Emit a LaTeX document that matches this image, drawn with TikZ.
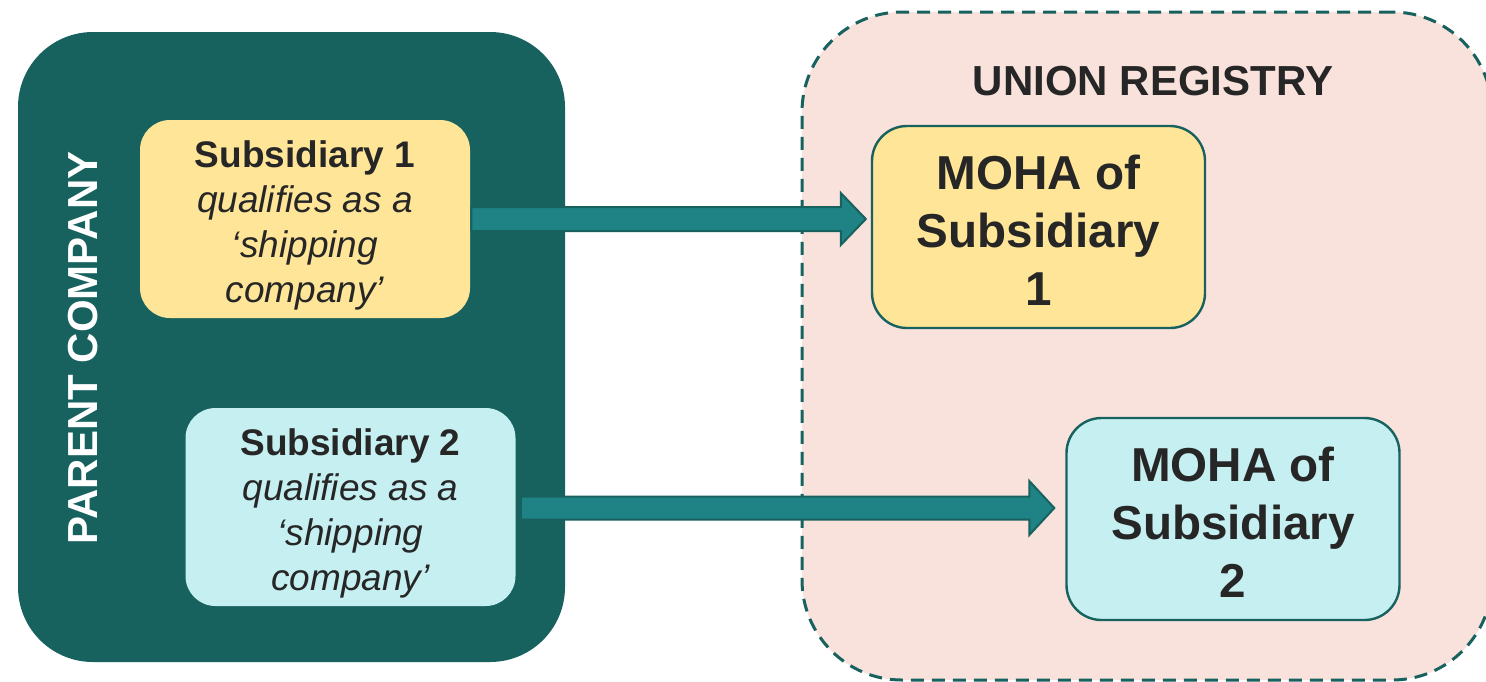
\documentclass[tikz,border=0pt]{standalone}
\usepackage{fontspec}
\setmainfont{Liberation Sans}
\usetikzlibrary{calc}
\definecolor{tealdark}{HTML}{17625F}
\definecolor{arrowteal}{HTML}{1F8285}
\definecolor{subyellow}{HTML}{FFE597}
\definecolor{subcyan}{HTML}{C5EFF1}
\definecolor{regpink}{HTML}{F9E1DC}
\definecolor{txt}{HTML}{262626}
\tikzset{
  subbox/.style={rectangle, rounded corners=15pt, minimum width=165pt, minimum height=99pt,
    inner sep=0pt},
  subtext/.style={inner sep=0pt, align=center, text=txt, font=\fontsize{18.5}{22.5}\selectfont\itshape},
  mohabox/.style={rectangle, rounded corners=17.5pt, draw=tealdark, line width=1.2pt,
    minimum width=166.5pt, minimum height=101pt, inner sep=0pt},
  mohatext/.style={inner sep=0pt, align=center, text=txt,
    font=\fontsize{23.8}{29}\selectfont\bfseries},
  bigarrow/.style={fill=arrowteal, draw=tealdark, line width=1pt, line join=miter},
  biglabel/.style={font=\fontsize{21}{25}\selectfont\bfseries, inner sep=0pt}
}
\begin{document}
\begin{tikzpicture}[x=0.5pt,y=-0.5pt]
\useasboundingbox (0,0) rectangle (1486,681);
\clip (0,0) rectangle (1486,681);
% union registry
\node[rectangle, rounded corners=50pt, fill=regpink, draw=tealdark, line width=1.5pt,
  dash pattern=on 6.5pt off 4pt, minimum width=345pt, minimum height=334pt, inner sep=0pt]
  (reg) at (1147,346) {};
\node[biglabel, text=txt] (reglabel) at (1153,81) {UNION REGISTRY};
% parent company
\node[rectangle, rounded corners=37.5pt, fill=tealdark, minimum width=273.5pt,
  minimum height=315pt, inner sep=0pt] (parent) at (291.5,347) {};
\node[biglabel, text=white, rotate=90] (parentlabel) at (83,348) {PARENT COMPANY};
% subsidiaries
\node[subbox, fill=subyellow] (s1) at (305,219) {};
\node[subtext] (s1t) at ($(s1.center)+(0,6)$)
  {{\upshape\bfseries Subsidiary 1}\\qualifies as a\\‘shipping\\company’};
\node[subbox, fill=subcyan] (s2) at (350.5,507) {};
\node[subtext] (s2t) at ($(s2.center)+(0,6)$)
  {{\upshape\bfseries Subsidiary 2}\\qualifies as a\\‘shipping\\company’};
% MOHA boxes
\node[mohabox, fill=subyellow] (m1) at (1038.5,227) {};
\node[mohatext] (m1t) at ($(m1.center)+(0,3)$) {MOHA of\\Subsidiary\\1};
\node[mohabox, fill=subcyan] (m2) at (1233,519) {};
\node[mohatext] (m2t) at ($(m2.center)+(0,3)$) {MOHA of\\Subsidiary\\2};
% arrows
\coordinate (t1) at ($(m1.west |- s1.east)+(-5,0)$);
\coordinate (a1) at ($(s1.east)+(1,0)$);
\draw[bigarrow] ($(a1)+(0,-12)$) -- ($(t1)+(-25,-12)$) -- ($(t1)+(-25,-26)$) -- (t1)
  -- ($(t1)+(-25,26)$) -- ($(t1)+(-25,12)$) -- ($(a1)+(0,12)$) -- cycle;
\coordinate (t2) at ($(m2.west |- s2.east)+(-11,1)$);
\coordinate (a2) at ($(s2.east)+(5,1)$);
\draw[bigarrow] ($(a2)+(0,-11.5)$) -- ($(t2)+(-25,-11.5)$) -- ($(t2)+(-25,-27)$) -- (t2)
  -- ($(t2)+(-25,27)$) -- ($(t2)+(-25,11.5)$) -- ($(a2)+(0,11.5)$) -- cycle;
\end{tikzpicture}
\end{document}
